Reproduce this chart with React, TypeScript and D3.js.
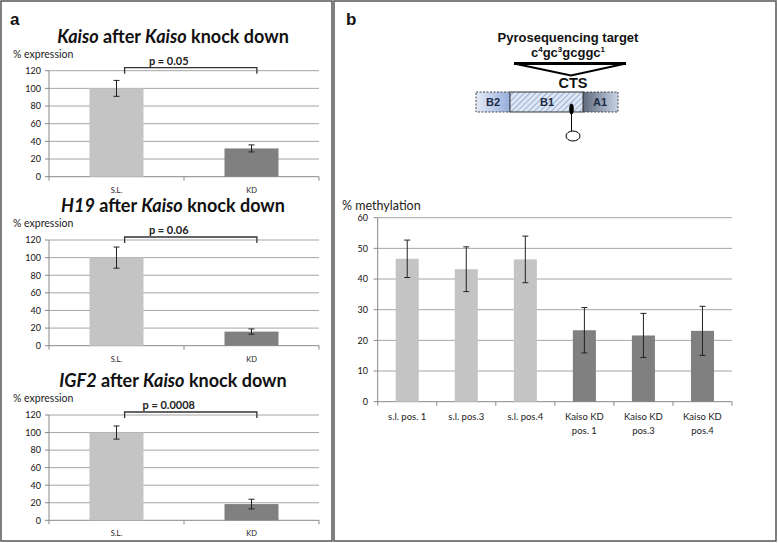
import React from "react";
import * as d3 from "d3";

// panel a: expression after Kaiso knock down
const expressionCategories = ["S.L.", "KD"];
const expressionTicks = [0, 20, 40, 60, 80, 100, 120];
const kaisoValues = [100, 32];
const kaisoErrors = [9, 4];
const h19Values = [100, 16];
const h19Errors = [12, 3];
const igf2Values = [100, 18.5];
const igf2Errors = [7.5, 5.5];
const pLabels = ["p = 0.05", "p = 0.06", "p = 0.0008"];
const geneNames = ["Kaiso", "H19", "IGF2"];

// panel b: methylation
const methylationCategories = [
  ["s.l. pos. 1"],
  ["s.l. pos.3"],
  ["s.l. pos.4"],
  ["Kaiso KD", "pos. 1"],
  ["Kaiso KD", "pos.3"],
  ["Kaiso KD", "pos.4"],
];
const methylationValues = [46.6, 43.2, 46.4, 23.3, 21.6, 23.1];
const methylationErrors = [6.1, 7.3, 7.6, 7.4, 7.2, 8.0];
const methylationTicks = [0, 10, 20, 30, 40, 50, 60];

const LIGHT = "#c4c4c4";
const DARK = "#808080";
const GRID = "#a6a6a6";
const FONT = "Lato, 'Open Sans', sans-serif";

type ExprProps = {
  gene: string;
  values: number[];
  errors: number[];
  pLabel: string;
  top: number; // y of 120
  bottom: number; // y of 0
};

const ExpressionChart = ({ gene, values, errors, pLabel, top, bottom }: ExprProps) => {
  const x = d3.scaleBand().domain(expressionCategories).range([49, 319]).padding(0);
  const y = d3.scaleLinear().domain([0, 120]).range([bottom, top]);
  const bw = x.bandwidth();
  const barW = bw * 0.4;
  const bx1 = (x(expressionCategories[0]) as number) + bw * 0.56;
  const bx2 = (x(expressionCategories[1]) as number) + bw * 0.54;
  const by = y(120) - 3;
  return (
    <g>
      <text x={173} y={top - 28} textAnchor="middle" fontFamily={FONT} fontWeight="bold" fontSize={18} fill="#111">
        <tspan fontStyle="italic">{gene}</tspan>
        <tspan> after </tspan>
        <tspan fontStyle="italic">Kaiso</tspan>
        <tspan> knock down</tspan>
      </text>
      <text x={13} y={top - 13} fontFamily={FONT} fontSize={10.5} fill="#222">% expression</text>
      {expressionTicks.map((t) => (
        <g key={t}>
          {t > 0 && <line x1={49} x2={319} y1={y(t)} y2={y(t)} stroke={GRID} strokeWidth={1} />}
          <line x1={45} x2={49} y1={y(t)} y2={y(t)} stroke="#888" />
          <text x={41} y={y(t) + 3.3} textAnchor="end" fontFamily={FONT} fontSize={9} fill="#111">{t}</text>
        </g>
      ))}
      <line x1={49} x2={49} y1={top} y2={bottom} stroke="#888" />
      <line x1={49} x2={319} y1={bottom} y2={bottom} stroke="#888" />
      {[0, 1, 2].map((i) => (
        <line key={i} x1={49 + i * bw} x2={49 + i * bw} y1={bottom} y2={bottom + 4} stroke="#888" />
      ))}
      {expressionCategories.map((c, i) => {
        const cx = (x(c) as number) + bw / 2;
        return (
          <g key={c}>
            <rect x={cx - barW / 2} y={y(values[i])} width={barW} height={bottom - y(values[i])} fill={i === 0 ? LIGHT : DARK} />
            <line x1={cx} x2={cx} y1={y(values[i] + errors[i])} y2={y(values[i] - errors[i])} stroke="#222" />
            <line x1={cx - 3} x2={cx + 3} y1={y(values[i] + errors[i])} y2={y(values[i] + errors[i])} stroke="#222" />
            <line x1={cx - 3} x2={cx + 3} y1={y(values[i] - errors[i])} y2={y(values[i] - errors[i])} stroke="#222" />
            <text x={cx} y={bottom + 16} textAnchor="middle" fontFamily={FONT} fontSize={7.5} fill="#222">{c}</text>
          </g>
        );
      })}
      <path d={`M${bx1},${by + 6}V${by}H${bx2}V${by + 6}`} fill="none" stroke="#333" strokeWidth={1.3} />
      <text x={(bx1 + bx2) / 2 - 22} y={by - 3} textAnchor="middle" fontFamily={FONT} fontWeight="bold" fontSize={11} fill="#222">{pLabel}</text>
    </g>
  );
};

const MethylationChart = () => {
  const cats = methylationCategories.map((c) => c.join(" "));
  const x = d3.scaleBand().domain(cats).range([377.7, 732]).padding(0);
  const y = d3.scaleLinear().domain([0, 60]).range([401.7, 217.7]);
  const bw = x.bandwidth();
  const barW = bw * 0.39;
  return (
    <g>
      <text x={342} y={209.5} fontFamily={FONT} fontSize={12.5} fill="#222">% methylation</text>
      {methylationTicks.map((t) => (
        <g key={t}>
          {t > 0 && <line x1={377.7} x2={732} y1={y(t)} y2={y(t)} stroke={GRID} />}
          <line x1={373.7} x2={377.7} y1={y(t)} y2={y(t)} stroke="#888" />
          <text x={368} y={y(t) + 3.3} textAnchor="end" fontFamily={FONT} fontSize={9} fill="#111">{t}</text>
        </g>
      ))}
      <line x1={377.7} x2={377.7} y1={217.7} y2={401.7} stroke="#888" />
      <line x1={377.7} x2={732} y1={401.7} y2={401.7} stroke="#888" />
      {d3.range(cats.length + 1).map((i) => (
        <line key={i} x1={377.7 + i * bw} x2={377.7 + i * bw} y1={401.7} y2={405.7} stroke="#888" />
      ))}
      {cats.map((c, i) => {
        const cx = (x(c) as number) + bw / 2;
        const v = methylationValues[i];
        const e = methylationErrors[i];
        return (
          <g key={c}>
            <rect x={cx - barW / 2} y={y(v)} width={barW} height={y(0) - y(v)} fill={i < 3 ? LIGHT : DARK} />
            <line x1={cx} x2={cx} y1={y(v + e)} y2={y(v - e)} stroke="#222" />
            <line x1={cx - 3} x2={cx + 3} y1={y(v + e)} y2={y(v + e)} stroke="#222" />
            <line x1={cx - 3} x2={cx + 3} y1={y(v - e)} y2={y(v - e)} stroke="#222" />
            {methylationCategories[i].map((line, j) => (
              <text key={j} x={cx} y={420 + j * 14} textAnchor="middle" fontFamily={FONT} fontSize={9.5} fill="#222">{line}</text>
            ))}
          </g>
        );
      })}
    </g>
  );
};

const Diagram = () => {
  const arial = "'Liberation Sans', Arial, sans-serif";
  return (
    <g>
      <defs>
        <linearGradient id="b2g" x1="0" x2="1" y1="0" y2="0">
          <stop offset="0" stopColor="#e4ebf6" />
          <stop offset="1" stopColor="#97addb" />
        </linearGradient>
        <linearGradient id="a1g" x1="0" x2="1" y1="0" y2="0">
          <stop offset="0" stopColor="#5f6a7c" />
          <stop offset="1" stopColor="#c9d3e6" />
        </linearGradient>
        <pattern id="hatch" width="4" height="4" patternUnits="userSpaceOnUse" patternTransform="rotate(45)">
          <rect width="4" height="4" fill="#dfe7f4" />
          <line x1="0" y1="0" x2="0" y2="4" stroke="#7d98c6" strokeWidth="1.4" />
        </pattern>
      </defs>
      <text x={568} y={42} textAnchor="middle" fontFamily={arial} fontWeight="bold" fontSize={13} fill="#111">Pyrosequencing target</text>
      <text x={568} y={57} textAnchor="middle" fontFamily={arial} fontWeight="bold" fontSize={13} fill="#111">
        c<tspan fontSize={8} dy={-5}>4</tspan>
        <tspan dy={5}>gc</tspan>
        <tspan fontSize={8} dy={-5}>3</tspan>
        <tspan dy={5}>gcggc</tspan>
        <tspan fontSize={8} dy={-5}>1</tspan>
      </text>
      <line x1={514} x2={626} y1={63.5} y2={63.5} stroke="#000" strokeWidth={3} />
      <polyline points="514,63.5 571,75.5 626,63.5" fill="none" stroke="#000" strokeWidth={2} />
      <text x={573} y={88} textAnchor="middle" fontFamily={arial} fontWeight="bold" fontSize={14.5} fill="#111">CTS</text>
      <rect x={476} y={92} width={34} height={20} fill="url(#b2g)" stroke="#444" strokeDasharray="2,1.5" />
      <rect x={583} y={92} width={35} height={20} fill="url(#a1g)" stroke="#444" strokeDasharray="2,1.5" />
      <rect x={510} y={92} width={73} height={20} fill="url(#hatch)" stroke="#333" />
      <text x={493} y={106} textAnchor="middle" fontFamily={arial} fontWeight="bold" fontSize={11} fill="#1e2b45">B2</text>
      <text x={547} y={106} textAnchor="middle" fontFamily={arial} fontWeight="bold" fontSize={11} fill="#1e2b45">B1</text>
      <text x={600} y={106} textAnchor="middle" fontFamily={arial} fontWeight="bold" fontSize={11} fill="#1e2b45">A1</text>
      <line x1={571.5} x2={571.5} y1={105} y2={131} stroke="#000" strokeWidth={1} />
      <ellipse cx={571.5} cy={109} rx={2.3} ry={5.5} fill="#000" />
      <ellipse cx={573} cy={136} rx={7} ry={5} fill="#fff" stroke="#000" strokeWidth={1} />
    </g>
  );
};

const App = () => {
  return (
    <div style={{ position: "fixed", left: 0, top: 0 }}>
      <svg width={778} height={543} style={{ display: "block", background: "#fff" }}>
        <rect x={1} y={1} width={331} height={540} fill="none" stroke="#555" strokeWidth={1.5} />
        <rect x={334} y={1} width={442} height={540} fill="none" stroke="#555" strokeWidth={1.5} />
        <text x={10} y={25} fontFamily="'Liberation Sans', Arial, sans-serif" fontWeight="bold" fontSize={17} fill="#111">a</text>
        <text x={346} y={25} fontFamily="'Liberation Sans', Arial, sans-serif" fontWeight="bold" fontSize={17} fill="#111">b</text>
        <ExpressionChart gene={geneNames[0]} values={kaisoValues} errors={kaisoErrors} pLabel={pLabels[0]} top={70.7} bottom={176.7} />
        <ExpressionChart gene={geneNames[1]} values={h19Values} errors={h19Errors} pLabel={pLabels[1]} top={240} bottom={345.7} />
        <ExpressionChart gene={geneNames[2]} values={igf2Values} errors={igf2Errors} pLabel={pLabels[2]} top={415} bottom={520.3} />
        <Diagram />
        <MethylationChart />
      </svg>
    </div>
  );
};

export default App;
